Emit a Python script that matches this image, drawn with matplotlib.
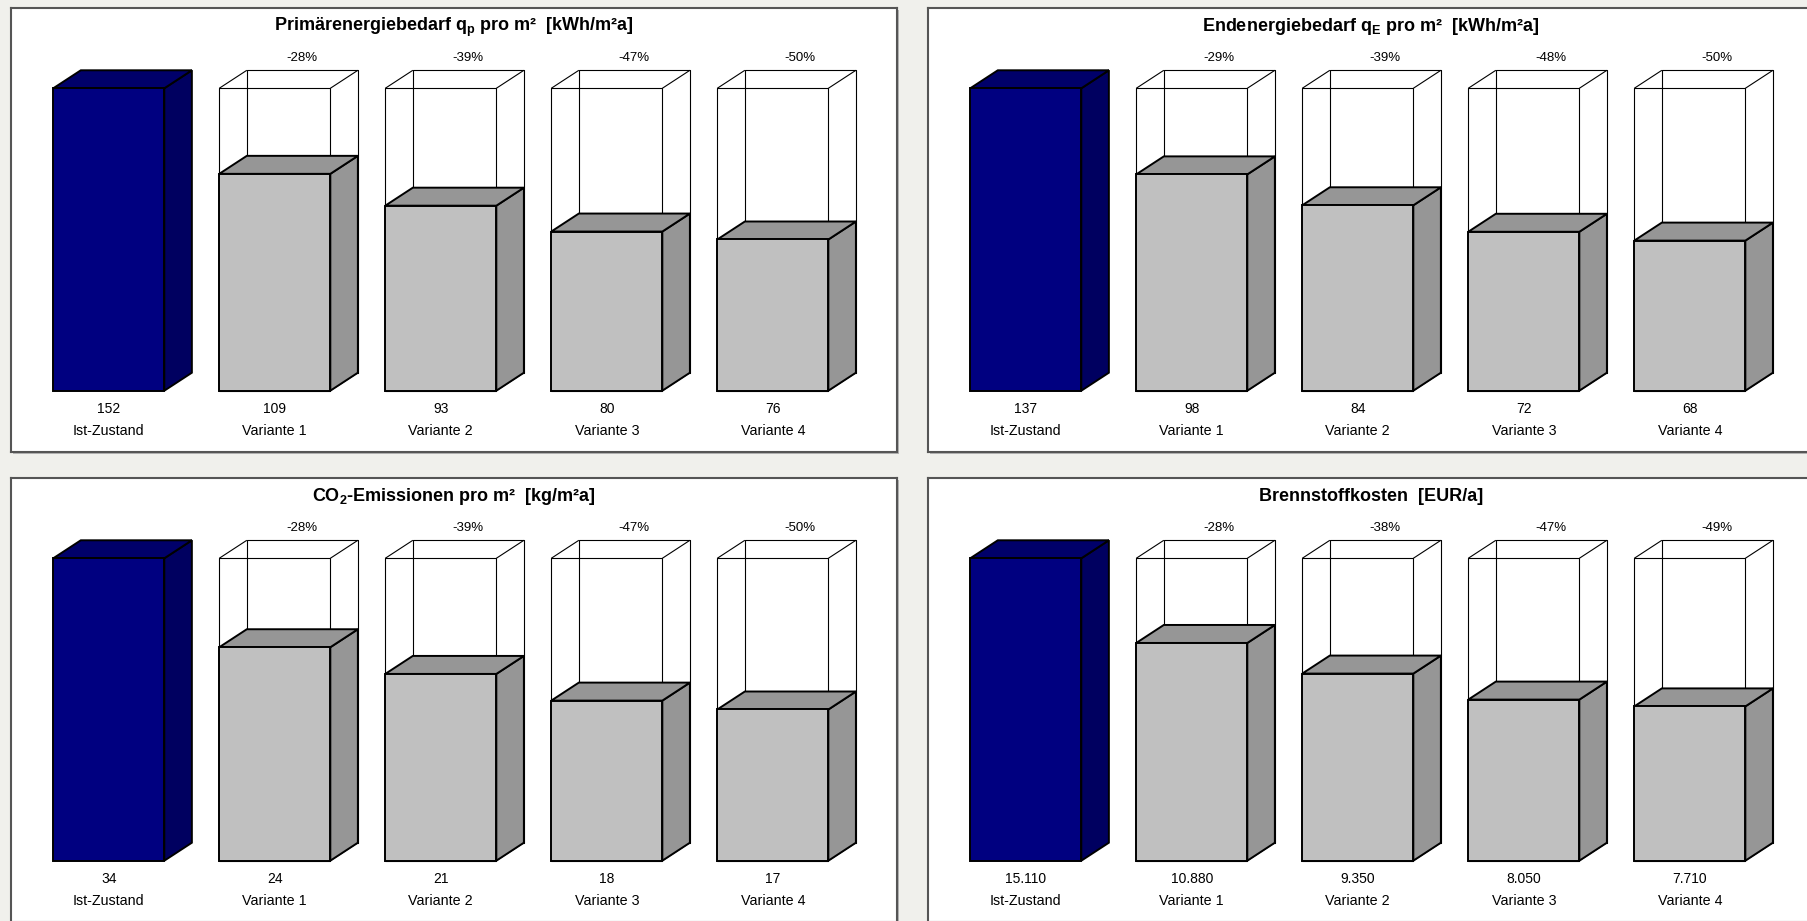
import matplotlib
matplotlib.use('Agg')
import matplotlib.pyplot as plt
from matplotlib.patches import Polygon, Rectangle

plt.rcParams['font.family'] = ['Liberation Sans', 'DejaVu Sans']
plt.rcParams['mathtext.fontset'] = 'custom'
plt.rcParams['mathtext.rm'] = 'Liberation Sans'
plt.rcParams['mathtext.bf'] = 'Liberation Sans:bold'

# --- data ---
categories = ['Ist-Zustand', 'Variante 1', 'Variante 2', 'Variante 3', 'Variante 4']

titles = [
    'Primärenergiebedarf q$_\\mathregular{p}$ pro m²  [kWh/m²a]',
    'Endenergiebedarf q$_\\mathregular{E}$ pro m²  [kWh/m²a]',
    'CO$_\\mathregular{2}$-Emissionen pro m²  [kg/m²a]',
    'Brennstoffkosten  [EUR/a]',
]

primaer = [152, 109, 93, 80, 76]
endenergie = [137, 98, 84, 72, 68]
co2 = [34, 24, 21, 18, 17]
kosten = [15110, 10880, 9350, 8050, 7710]

primaer_pct = ['-28%', '-39%', '-47%', '-50%']
endenergie_pct = ['-29%', '-39%', '-48%', '-50%']
co2_pct = ['-28%', '-39%', '-47%', '-50%']
kosten_pct = ['-28%', '-38%', '-47%', '-49%']

series = [primaer, endenergie, co2, kosten]
percents = [primaer_pct, endenergie_pct, co2_pct, kosten_pct]

# --- layout (pixels) ---
W, H = 1807, 921
panels = [(11, 8), (928, 8), (11, 478), (928, 478)]  # left, top
PW, PH = 886, 444
BG = '#F0F0EC'

BAR_W = 0.669
DX = 0.166          # depth in x units
DY = 0.0595         # depth as fraction of vmax
YLIM = (-0.2027, 1.2655)
XLIM = (-0.589, 4.748)

BLUE = ('#000080', '#00006A', '#000060')    # front, top, side
GREY = ('#C0C0C0', '#969696', '#969696')


def fmt_value(v):
    return f'{v:,}'.replace(',', '.')


def draw_box(ax, i, h, vmax, colors, lw=1.4):
    x0, x1 = i - BAR_W / 2, i + BAR_W / 2
    dy = DY * vmax
    front, top, side = colors
    ax.add_patch(Polygon([(x1, 0), (x1 + DX, dy), (x1 + DX, h + dy), (x1, h)],
                         closed=True, fc=side, ec='black', lw=lw, zorder=3))
    ax.add_patch(Polygon([(x0, h), (x1, h), (x1 + DX, h + dy), (x0 + DX, h + dy)],
                         closed=True, fc=top, ec='black', lw=lw, zorder=3))
    ax.add_patch(Rectangle((x0, 0), BAR_W, h, fc=front, ec='black', lw=lw, zorder=3))


def draw_frame(ax, i, vmax, lw=0.8):
    # open wireframe box showing the reference level
    x0, x1 = i - BAR_W / 2, i + BAR_W / 2
    dy = DY * vmax
    kw = dict(color='black', lw=lw, zorder=2, solid_capstyle='butt')
    ax.plot([x0, x1, x1, x0, x0], [0, 0, vmax, vmax, 0], **kw)
    ax.plot([x0 + DX, x1 + DX, x1 + DX, x0 + DX, x0 + DX],
            [dy, dy, vmax + dy, vmax + dy, dy], **kw)
    for xa in (x0, x1):
        ax.plot([xa, xa + DX], [vmax, vmax + dy], **kw)
        ax.plot([xa, xa + DX], [0, dy], **kw)


fig = plt.figure(figsize=(W / 100, H / 100), dpi=100, facecolor=BG)

for (left, top), title, vals, pcts in zip(panels, titles, series, percents):
    rect = [left / W, 1 - (top + PH) / H, PW / W, PH / H]
    # drop shadow right/below the panel
    fig.patches.append(Rectangle(((left + 2) / W, 1 - (top + PH + 2) / H), PW / W, PH / H,
                                 transform=fig.transFigure, fc='#B4B4B4', ec='none', zorder=-1))
    ax = fig.add_axes(rect)
    ax.set_facecolor('white')
    vmax = vals[0]
    ax.set_xlim(*XLIM)
    ax.set_ylim(YLIM[0] * vmax, YLIM[1] * vmax)
    ax.set_xticks([])
    ax.set_yticks([])
    for sp in ax.spines.values():
        sp.set_color('#555555')
        sp.set_linewidth(1.5)

    for i, v in enumerate(vals):
        if i == 0:
            draw_box(ax, i, v, vmax, BLUE)
        else:
            draw_frame(ax, i, vmax)
            draw_box(ax, i, v, vmax, GREY)
            ax.text(i + DX, 1.1 * vmax, pcts[i - 1], ha='center', va='center', fontsize=9.5)
        ax.text(i, -0.0605 * vmax, fmt_value(v), ha='center', va='center', fontsize=10)
        ax.text(i, -0.133 * vmax, categories[i], ha='center', va='center', fontsize=10.3)

    ax.text(0.5, (1.2027 - YLIM[0]) / (YLIM[1] - YLIM[0]), title, transform=ax.transAxes,
            ha='center', va='center', fontsize=13, fontweight='bold')

fig.savefig('out.png', dpi=100, facecolor=BG)
